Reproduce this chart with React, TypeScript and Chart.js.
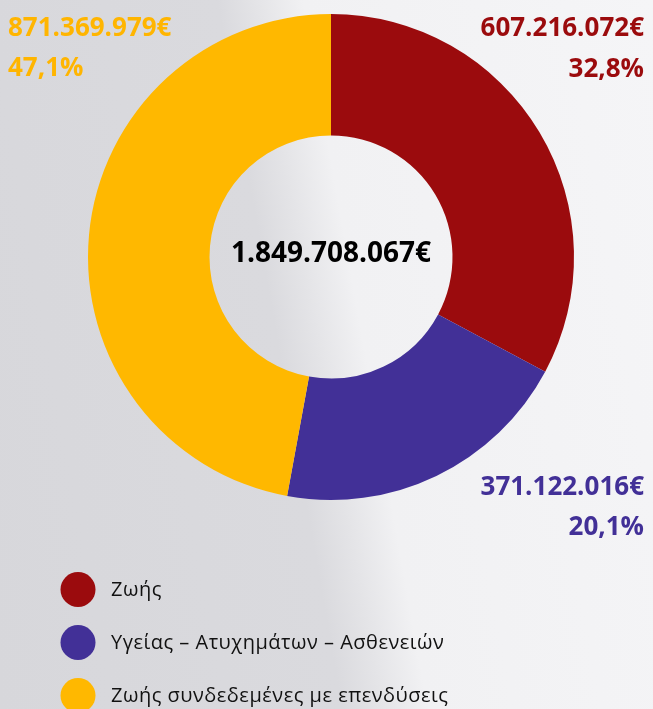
import React, { useEffect, useRef } from "react";
import { Chart, registerables } from "chart.js";

Chart.register(...registerables);

const categories = [
  "Ζωής",
  "Υγείας – Ατυχημάτων – Ασθενειών",
  "Ζωής συνδεδεμένες με επενδύσεις",
];
const premiums = [607216072, 371122016, 871369979];
const sliceColors = ["#9b0b0d", "#423097", "#ffb800"];
const labelColors = ["#9b0b0d", "#423097", "#ffb500"];

const W = 653;
const H = 709;
const FONT = "'Open Sans', 'Noto Sans', sans-serif";

function fmt(n: number): string {
  const s = Math.round(n).toString();
  return s.replace(/\B(?=(\d{3})+(?!\d))/g, ".") + "€";
}
function pct(v: number, total: number): string {
  return ((v / total) * 100).toFixed(1).replace(".", ",") + "%";
}

// label layout per slice: [x, baseline1, baseline2, align]
const labelLayout: [number, number, number, CanvasTextAlign][] = [
  [644, 36, 77, "right"],
  [644, 495, 535, "right"],
  [8, 36, 76, "left"],
];

const overlayPlugin = {
  id: "overlay",
  afterDraw(chart: any) {
    const ctx = chart.ctx as CanvasRenderingContext2D;
    const data = chart.data.datasets[0].data as number[];
    const total = data.reduce((a, b) => a + b, 0);
    const meta = chart.getDatasetMeta(0);
    const arc = meta.data[0];
    ctx.save();
    // center total
    ctx.fillStyle = "#000000";
    ctx.font = `bold 28px ${FONT}`;
    ctx.textAlign = "center";
    ctx.textBaseline = "middle";
    ctx.fillText(fmt(total), arc.x, arc.y - 3);

    // value labels
    ctx.textBaseline = "alphabetic";
    data.forEach((v, i) => {
      const [x, b1, b2, align] = labelLayout[i];
      ctx.textAlign = align;
      ctx.fillStyle = labelColors[i];
      ctx.font = `bold 26px ${FONT}`;
      ctx.fillText(fmt(v), x, b1);
      ctx.fillText(pct(v, total), x, b2);
    });

    // legend
    const labels = chart.data.labels as string[];
    labels.forEach((lab, i) => {
      const cy = 589.5 + i * 53;
      ctx.beginPath();
      ctx.fillStyle = sliceColors[i];
      ctx.arc(78, cy, 17.5, 0, Math.PI * 2);
      ctx.fill();
      ctx.fillStyle = "#111111";
      ctx.font = `20px ${FONT}`;
      (ctx as any).letterSpacing = "0.5px";
      ctx.textAlign = "left";
      ctx.textBaseline = "middle";
      ctx.fillText(lab, 111, cy + 1);
      (ctx as any).letterSpacing = "0px";
    });
    ctx.restore();
  },
};

export default function App() {
  const ref = useRef<HTMLCanvasElement>(null);
  useEffect(() => {
    document.body.style.margin = "0";
    const chart = new Chart(ref.current!, {
      type: "doughnut",
      data: {
        labels: categories,
        datasets: [
          {
            data: premiums,
            backgroundColor: sliceColors,
            borderWidth: 0,
          },
        ],
      },
      options: {
        responsive: false,
        maintainAspectRatio: false,
        animation: false,
        cutout: "50%",
        layout: { padding: { left: 88, right: 79, top: 14, bottom: 209 } },
        plugins: {
          legend: { display: false },
          tooltip: { enabled: false },
        },
      },
      plugins: [overlayPlugin],
    });
    return () => chart.destroy();
  }, []);
  return (
    <div
      style={{
        position: "absolute",
        left: 0,
        top: 0,
        width: W,
        height: H,
        overflow: "hidden",
        background:
          "linear-gradient(80deg, #d7d7db 0%, #dadade 44%, #e4e4e7 49%, #f1f1f3 55%, #f5f5f7 100%)",
      }}
    >
      <canvas ref={ref} width={W} height={H} style={{ width: W, height: H, display: "block" }} />
    </div>
  );
}
